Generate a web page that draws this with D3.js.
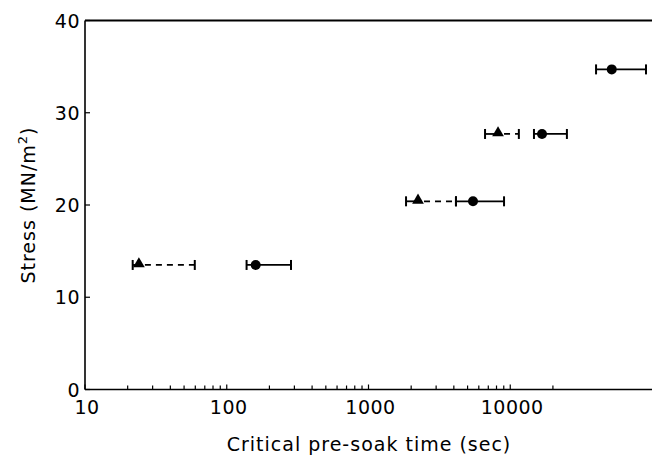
<!DOCTYPE html>
<html><head><meta charset="utf-8">
<script src="https://cdn.jsdelivr.net/npm/d3@7"></script>
<style>body{margin:0;background:#fff}text{font-family:"DejaVu Sans",sans-serif;fill:#000}</style>
</head><body><svg id="c" width="652" height="459"></svg>
<script>
// Triangle series (dashed upper range)
const triStress = [13.5, 20.4, 27.7];
const triTime   = [24, 2235, 8200];
const triLow    = [21.7, 1840, 6640];
const triHigh   = [59.5, 4140, 11500];
// Circle series (solid range)
const cirStress = [13.5, 20.4, 27.7, 34.7];
const cirTime   = [160, 5460, 16750, 52000];
const cirLow    = [138, 4140, 14700, 40300];
const cirHigh   = [284, 9040, 25100, 90700];
// Axes
const xTickLabels = [10, 100, 1000, 10000];
const yTickLabels = [0, 10, 20, 30, 40];

const svg = d3.select("#c");
const x = d3.scaleLog().domain([10, 100000]).range([85, 652]);
const y = d3.scaleLinear().domain([0, 40]).range([389.5, 20.5]);

const minor = [];
[10, 100, 1000].forEach(d => { for (let k = 2; k <= 9; k++) minor.push(d * k); });
minor.push(20000);

const g = svg.append("g");
// frame
g.append("line").attr("x1", x(10)).attr("x2", 652).attr("y1", y(40)).attr("y2", y(40)).attr("stroke", "#000").attr("stroke-width", 2);
g.append("line").attr("x1", x(10)).attr("x2", x(10)).attr("y1", y(40)).attr("y2", y(0)).attr("stroke", "#000").attr("stroke-width", 1.6);
g.append("line").attr("x1", x(10)).attr("x2", 652).attr("y1", y(0)).attr("y2", y(0)).attr("stroke", "#000").attr("stroke-width", 1.6);

// x ticks
g.selectAll(".mx").data(minor).enter().append("line")
  .attr("x1", d => x(d)).attr("x2", d => x(d)).attr("y1", y(0)).attr("y2", y(0) - 4)
  .attr("stroke", "#000").attr("stroke-width", 1.2);
g.selectAll(".Mx").data(xTickLabels).enter().append("line")
  .attr("x1", d => x(d)).attr("x2", d => x(d)).attr("y1", y(0)).attr("y2", y(0) - 5)
  .attr("stroke", "#000").attr("stroke-width", 1.2);
g.selectAll(".xl").data(xTickLabels).enter().append("text")
  .attr("x", d => x(d) + 2).attr("y", 414).attr("text-anchor", "middle")
  .attr("font-size", 19).attr("letter-spacing", 0.5).text(d => d);

// y ticks
g.selectAll(".yt").data(yTickLabels).enter().append("line")
  .attr("x1", x(10)).attr("x2", x(10) + 5).attr("y1", d => y(d)).attr("y2", d => y(d))
  .attr("stroke", "#000").attr("stroke-width", 1.2);
g.selectAll(".yl").data(yTickLabels).enter().append("text")
  .attr("x", 80).attr("y", d => y(d) + 7).attr("text-anchor", "end")
  .attr("font-size", 19).attr("letter-spacing", 0.5).text(d => d);

// axis titles
svg.append("text").attr("x", 369).attr("y", 451).attr("text-anchor", "middle")
  .attr("font-size", 19).attr("letter-spacing", 1).text("Critical pre-soak time (sec)");
const yt = svg.append("text").attr("transform", "translate(35,205) rotate(-90)")
  .attr("text-anchor", "middle").attr("font-size", 19).attr("letter-spacing", 1);
yt.append("tspan").text("Stress (MN/m");
yt.append("tspan").attr("dy", -8).attr("font-size", 13).text("2");
yt.append("tspan").attr("dy", 8).text(")");

function cap(px, py) {
  g.append("line").attr("x1", px).attr("x2", px).attr("y1", py - 5).attr("y2", py + 5)
    .attr("stroke", "#000").attr("stroke-width", 2);
}
// triangles
triTime.forEach((t, i) => {
  const py = y(triStress[i]);
  g.append("line").attr("x1", x(triLow[i])).attr("x2", x(t)).attr("y1", py).attr("y2", py)
    .attr("stroke", "#000").attr("stroke-width", 1.8);
  g.append("line").attr("x1", x(t) + 6).attr("x2", x(triHigh[i])).attr("y1", py).attr("y2", py)
    .attr("stroke", "#000").attr("stroke-width", 1.8).attr("stroke-dasharray", "6,5");
  cap(x(triLow[i]), py); cap(x(triHigh[i]), py);
  g.append("path").attr("d", d3.symbol().type(d3.symbolTriangle).size(60)())
    .attr("transform", `translate(${x(t)},${py - 1})`).attr("fill", "#000");
});
// circles
cirTime.forEach((t, i) => {
  const py = y(cirStress[i]);
  g.append("line").attr("x1", x(cirLow[i])).attr("x2", x(cirHigh[i])).attr("y1", py).attr("y2", py)
    .attr("stroke", "#000").attr("stroke-width", 1.8);
  cap(x(cirLow[i]), py); cap(x(cirHigh[i]), py);
  g.append("circle").attr("cx", x(t)).attr("cy", py).attr("r", 5).attr("fill", "#000");
});
</script></body></html>
